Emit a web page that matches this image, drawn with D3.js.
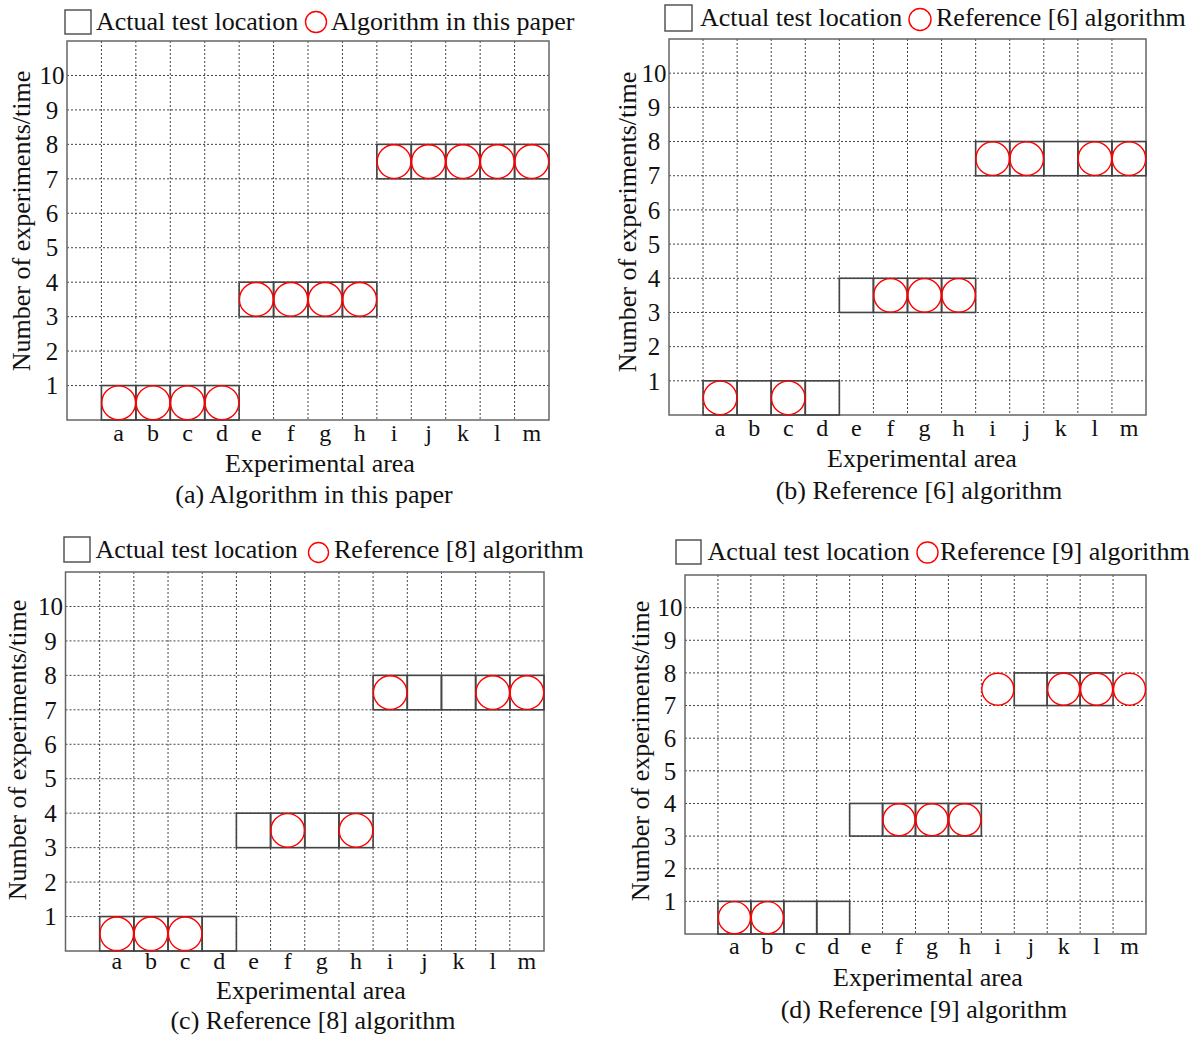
<!DOCTYPE html>
<html>
<head>
<meta charset="utf-8">
<script src="https://cdn.jsdelivr.net/npm/d3@7"></script>
<style>
  body { margin: 0; background: #fff; }
  text { font-family: "Liberation Serif", "Times New Roman", serif; fill: #111; }
</style>
</head>
<body>
<div id="chart"></div>
<script>
// Experimental areas (x categories)
var areas = ["a", "b", "c", "d", "e", "f", "g", "h", "i", "j", "k", "l", "m"];
var yTicks = [1, 2, 3, 4, 5, 6, 7, 8, 9, 10];

// centre value of the cell for each area (null = nothing drawn)
var actualFull = [0.5, 0.5, 0.5, 0.5, 3.5, 3.5, 3.5, 3.5, 7.5, 7.5, 7.5, 7.5, 7.5];
var actualD    = [0.5, 0.5, 0.5, 0.5, 3.5, 3.5, 3.5, 3.5, null, 7.5, 7.5, 7.5, null];

var algoThisPaper = [0.5, 0.5, 0.5, 0.5, 3.5, 3.5, 3.5, 3.5, 7.5, 7.5, 7.5, 7.5, 7.5];
var algoRef6      = [0.5, null, 0.5, null, null, 3.5, 3.5, 3.5, 7.5, 7.5, null, 7.5, 7.5];
var algoRef8      = [0.5, 0.5, 0.5, null, null, 3.5, null, 3.5, 7.5, null, null, 7.5, 7.5];
var algoRef9      = [0.5, 0.5, null, null, null, 3.5, 3.5, 3.5, 7.5, null, 7.5, 7.5, 7.5];

var legendNames = ["Algorithm in this paper", "Reference [6] algorithm", "Reference [8] algorithm", "Reference [9] algorithm"];
var captions = ["(a) Algorithm in this paper", "(b) Reference [6] algorithm", "(c) Reference [8] algorithm", "(d) Reference [9] algorithm"];

// panel layout (pixel positions only)
var panels = [
  { frame: [67, 41, 549, 420], box: [65, 10, 26, 24], t1: [96, 30], circ: [316, 22, 10.5], t2: [331, 30],
    yTitle: [22, 221], xTick: 21, xTitle: [320, 472], cap: [314, 503], actual: actualFull, algo: algoThisPaper },
  { frame: [669, 39, 1146, 415], box: [665, 5, 27, 26], t1: [700, 26], circ: [920, 19.5, 11], t2: [936, 26],
    yTitle: [628, 222], xTick: 21, xTitle: [922, 467], cap: [919, 499], actual: actualFull, algo: algoRef6 },
  { frame: [65.5, 572, 544, 951], box: [64, 537, 26, 25], t1: [95.5, 558], circ: [318.5, 552.5, 10], t2: [334, 558],
    yTitle: [18, 750], xTick: 18, xTitle: [311, 999], cap: [313, 1029], actual: actualFull, algo: algoRef8 },
  { frame: [685, 575, 1146, 934], box: [676, 540, 25, 24], t1: [707.6, 560], circ: [927.5, 552.5, 10.5], t2: [940, 560],
    yTitle: [641, 751], xTick: 20, xTitle: [928, 986], cap: [924, 1018], actual: actualD, algo: algoRef9 }
];

var svg = d3.select("#chart").append("svg")
  .attr("width", 1196)
  .attr("height", 1039);

panels.forEach(function(p, k) {
  var x0 = p.frame[0], y0 = p.frame[1], x1 = p.frame[2], y1 = p.frame[3];

  // first band is the empty column left of "a"
  var x = d3.scaleBand().domain([""].concat(areas)).range([x0, x1]);
  var y = d3.scaleLinear().domain([0, 11]).range([y1, y0]);
  var bw = x.bandwidth();

  var g = svg.append("g");

  // dotted grid
  g.selectAll(".vgrid")
    .data(areas)
    .enter()
    .append("line")
    .attr("x1", d => x(d)).attr("x2", d => x(d))
    .attr("y1", y0).attr("y2", y1)
    .attr("stroke", "#444").attr("stroke-width", 1)
    .attr("stroke-dasharray", "2,2");

  g.selectAll(".hgrid")
    .data(yTicks)
    .enter()
    .append("line")
    .attr("x1", x0).attr("x2", x1)
    .attr("y1", d => y(d)).attr("y2", d => y(d))
    .attr("stroke", "#444").attr("stroke-width", 1)
    .attr("stroke-dasharray", "2,2");

  // frame
  g.append("rect")
    .attr("x", x0).attr("y", y0)
    .attr("width", x1 - x0).attr("height", y1 - y0)
    .attr("fill", "none").attr("stroke", "#666").attr("stroke-width", 1.5);

  // actual test location boxes
  var boxes = areas.map((a, i) => ({ area: a, v: p.actual[i] })).filter(d => d.v !== null);
  g.selectAll(".cell")
    .data(boxes)
    .enter()
    .append("rect")
    .attr("x", d => x(d.area))
    .attr("y", d => y(d.v + 0.5))
    .attr("width", bw)
    .attr("height", d => y(d.v - 0.5) - y(d.v + 0.5))
    .attr("fill", "none").attr("stroke", "#444").attr("stroke-width", 1.6);

  // algorithm result circles
  var dots = areas.map((a, i) => ({ area: a, v: p.algo[i] })).filter(d => d.v !== null);
  var r = Math.min(bw, y(0) - y(1)) / 2 - 0.3;
  g.selectAll(".dot")
    .data(dots)
    .enter()
    .append("circle")
    .attr("cx", d => x(d.area) + bw / 2)
    .attr("cy", d => y(d.v))
    .attr("r", r)
    .attr("fill", "none").attr("stroke", "#f00").attr("stroke-width", 1.4);

  // y tick labels
  g.selectAll(".ylab")
    .data(yTicks)
    .enter()
    .append("text")
    .attr("x", x0 - 15)
    .attr("y", d => y(d))
    .attr("dy", "0.35em")
    .attr("text-anchor", "middle")
    .attr("font-size", "25px")
    .text(d => d);

  // x tick labels
  g.selectAll(".xlab")
    .data(areas)
    .enter()
    .append("text")
    .attr("x", d => x(d) + bw / 2)
    .attr("y", y1 + p.xTick)
    .attr("text-anchor", "middle")
    .attr("font-size", "24px")
    .text(d => d);

  // axis titles and caption
  g.append("text")
    .attr("transform", `translate(${p.yTitle[0]}, ${p.yTitle[1]}) rotate(-90)`)
    .attr("dy", "0.32em")
    .attr("text-anchor", "middle")
    .attr("font-size", "26px")
    .text("Number of experiments/time");

  g.append("text")
    .attr("x", p.xTitle[0]).attr("y", p.xTitle[1])
    .attr("text-anchor", "middle")
    .attr("font-size", "26px")
    .text("Experimental area");

  g.append("text")
    .attr("x", p.cap[0]).attr("y", p.cap[1])
    .attr("text-anchor", "middle")
    .attr("font-size", "26px")
    .text(captions[k]);

  // legend
  g.append("rect")
    .attr("x", p.box[0]).attr("y", p.box[1])
    .attr("width", p.box[2]).attr("height", p.box[3])
    .attr("fill", "none").attr("stroke", "#555").attr("stroke-width", 1.5);
  g.append("text")
    .attr("x", p.t1[0]).attr("y", p.t1[1])
    .attr("font-size", "26px")
    .text("Actual test location");
  g.append("circle")
    .attr("cx", p.circ[0]).attr("cy", p.circ[1]).attr("r", p.circ[2])
    .attr("fill", "none").attr("stroke", "#f00").attr("stroke-width", 1.4);
  g.append("text")
    .attr("x", p.t2[0]).attr("y", p.t2[1])
    .attr("font-size", "26px")
    .text(legendNames[k]);
});
</script>
</body>
</html>
